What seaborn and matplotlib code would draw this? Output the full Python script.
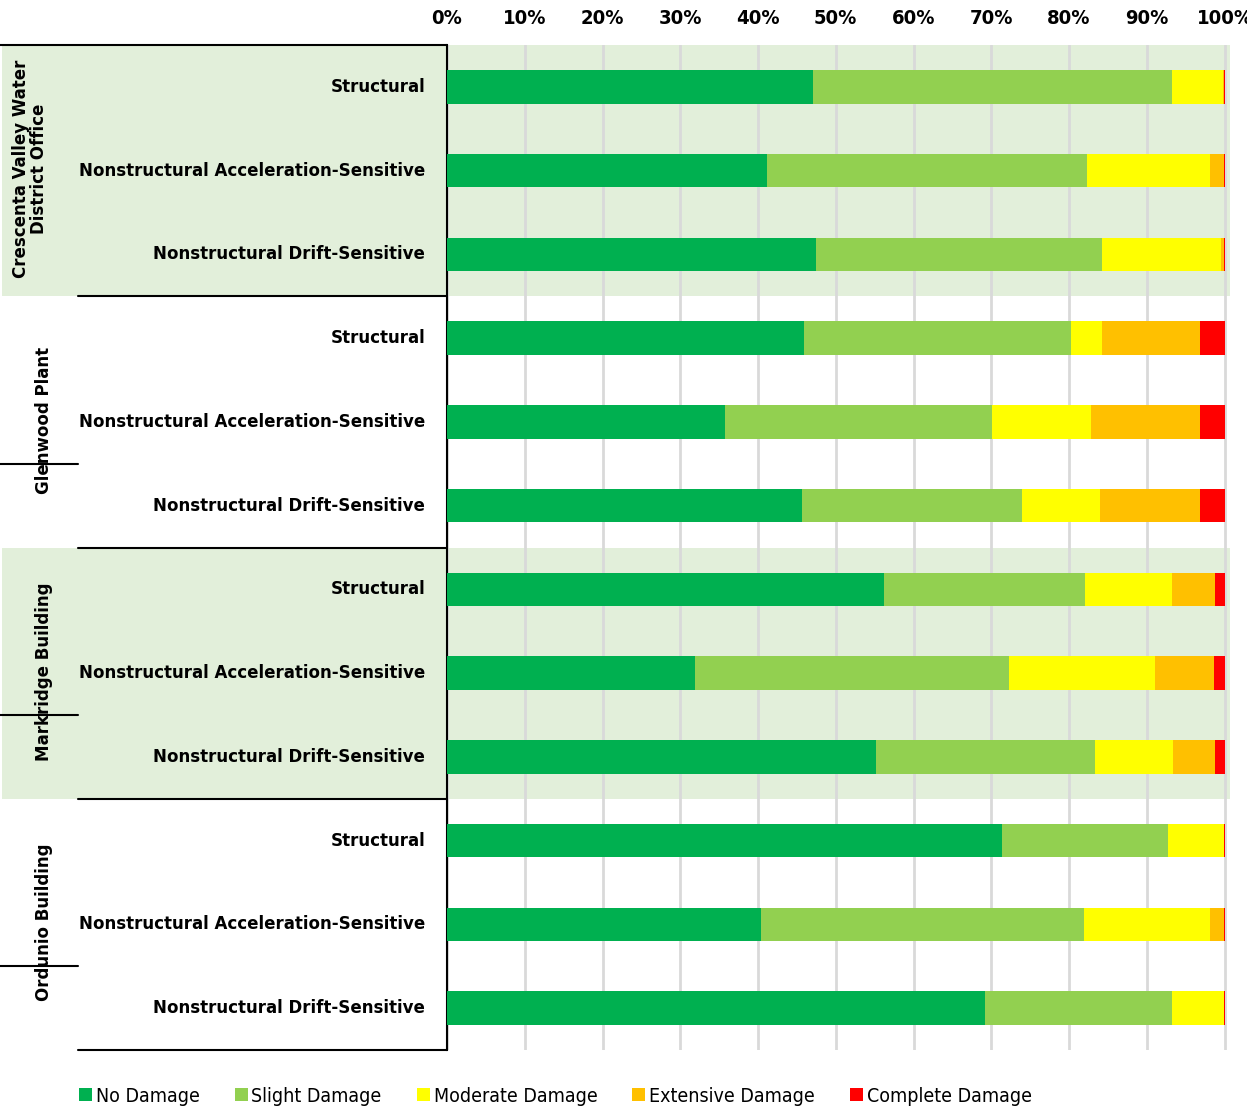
import numpy as np
import pandas as pd
import seaborn as sns
import matplotlib.pyplot as plt
import matplotlib.transforms as mtransforms
from matplotlib.patches import Rectangle, Patch
from matplotlib.lines import Line2D

sns.set_theme(style="white")
plt.rcParams['font.family'] = ['DejaVu Sans']
plt.rcParams['font.stretch'] = 'condensed'
plt.rcParams['text.color'] = 'black'
plt.rcParams['xtick.color'] = 'black'
plt.rcParams['xtick.labelcolor'] = 'black'

groups = ["Crescenta Valley Water\nDistrict Office", "Glenwood Plant", "Markridge Building", "Ordunio Building"]
components = ["Structural", "Nonstructural Acceleration-Sensitive", "Nonstructural Drift-Sensitive"]
states = ["No Damage", "Slight Damage", "Moderate Damage", "Extensive Damage", "Complete Damage"]
colors = ["#00B050", "#92D050", "#FFFF00", "#FFC000", "#FF0000"]

no_damage = [47.1, 41.1, 47.5, 45.9, 35.8, 45.6, 56.2, 31.9, 55.2, 71.4, 40.4, 69.2]
slight    = [46.1, 41.2, 36.8, 34.3, 34.3, 28.4, 25.8, 40.4, 28.2, 21.3, 41.5, 24.1]
moderate  = [6.6, 15.8, 15.3, 4.0, 12.7, 10.0, 11.3, 18.7, 10.0, 7.2, 16.2, 6.6]
extensive = [0.1, 1.8, 0.3, 12.7, 14.0, 12.9, 5.5, 7.6, 5.4, 0.05, 1.8, 0.0]
complete  = [0.1, 0.1, 0.1, 3.1, 3.2, 3.1, 1.2, 1.4, 1.2, 0.05, 0.1, 0.1]

W, H = 1247, 1110
fig = plt.figure(figsize=(W / 100, H / 100), dpi=100)
ax = fig.add_axes([447 / W, 1 - 1050 / H, (1230 - 447) / W, (1050 - 45) / H])
ax.patch.set_alpha(0)

rows = [f"r{i}" for i in range(12)]
vals = np.array([no_damage, slight, moderate, extensive, complete]) / 100.0
vals = vals / vals.sum(axis=0, keepdims=True)
cum = np.cumsum(vals, axis=0)

for k in range(len(states) - 1, -1, -1):
    df = pd.DataFrame({"row": rows, "value": cum[k]})
    sns.barplot(data=df, x="value", y="row", order=rows, orient="h", color=colors[k],
                width=0.4, saturation=1, ax=ax, zorder=2 + (5 - k), linewidth=0)

ax.set_xlim(0, 1.007)
ax.set_ylim(11.5, -0.5)
ticks = np.arange(0, 1.01, 0.1)
ax.set_xticks(ticks)
ax.set_xticklabels([f"{int(round(t*100))}%" for t in ticks], fontsize=14.5, fontweight='bold',
                   color='black')
ax.xaxis.tick_top()
ax.tick_params(axis='x', length=0, pad=12)
ax.set_yticks([])
ax.set_xlabel("")
ax.set_ylabel("")
ax.set_axisbelow(True)
ax.grid(axis='x', color='#D9D9D9', linewidth=2)
for s in ['top', 'right', 'bottom']:
    ax.spines[s].set_visible(False)
ax.spines['left'].set_color('black')
ax.spines['left'].set_linewidth(1.5)

blend = mtransforms.blended_transform_factory(fig.transFigure, ax.transData)

for g in [0, 2]:
    ax.add_patch(Rectangle((2 / W, g * 3 - 0.5), (1230 - 2) / W, 3.0, transform=blend,
                           facecolor='#E2EFDA', edgecolor='none', clip_on=False, zorder=0))

for i in range(12):
    ax.text(425 / W, i, components[i % 3], transform=blend, ha='right', va='center',
            fontsize=13.3, fontweight='bold', color='black', clip_on=False)

gx = [30, 44, 44, 44]
for g, name in enumerate(groups):
    ax.text(gx[g] / W, g * 3 + 1 - 0.02, name, transform=blend, ha='center', va='center',
            rotation=90, fontsize=13.3, fontweight='bold', linespacing=0.95, color='black',
            clip_on=False)

ax.add_line(Line2D([0, 447 / W], [-0.5, -0.5], transform=blend, color='black', lw=1.5, clip_on=False))
for g in range(1, 5):
    y = g * 3 - 0.5
    ax.add_line(Line2D([78 / W, 447 / W], [y, y], transform=blend, color='black', lw=1.5, clip_on=False))
for g in range(1, 4):
    y = g * 3 + 1.5
    ax.add_line(Line2D([0, 78 / W], [y, y], transform=blend, color='black', lw=1.5, clip_on=False))

handles = [Patch(facecolor=c, edgecolor='none') for c in colors]
leg = fig.legend(handles, states, loc='center left', bbox_to_anchor=(71 / W, 1 - 1096 / H), ncol=5,
                 frameon=False, fontsize=14, handlelength=0.67, handleheight=0.67, handletextpad=0.2,
                 columnspacing=1.8, borderaxespad=0)
for t in leg.get_texts():
    t.set_color('black')

fig.savefig("out.png", dpi=100)
